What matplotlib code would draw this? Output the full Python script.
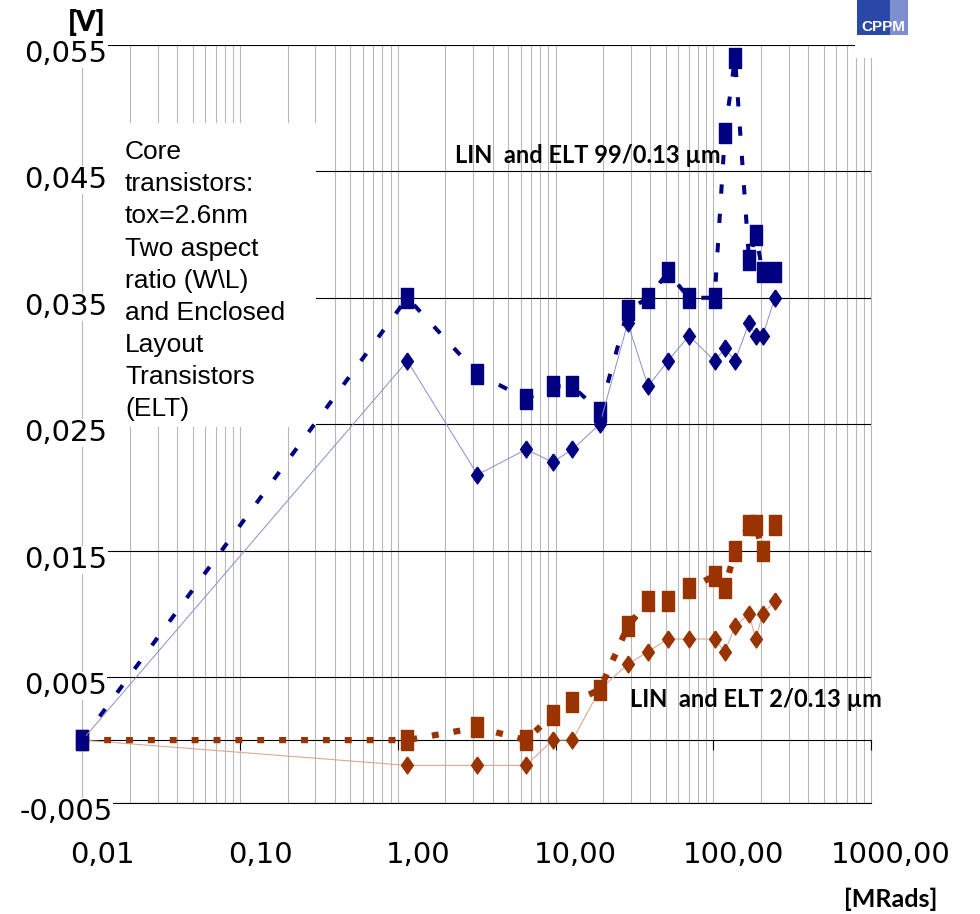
import numpy as np
import matplotlib
matplotlib.use('Agg')
import matplotlib.pyplot as plt
import matplotlib.transforms as mtransforms
from matplotlib.patches import Rectangle
from matplotlib.ticker import LogLocator, NullFormatter

# Dose points [MRad]
dose = [0.01, 1.15, 3.2, 6.5, 9.6, 12.8, 19.1, 28.7, 38.6, 51.6,
        70.2, 102, 118.6, 137.4, 168.6, 185.8, 205.7, 246]

# LIN/ELT 99/0.13 um (blue)
blue_sq = [0.000, 0.035, 0.029, 0.027, 0.028, 0.028, 0.026, 0.034, 0.035, 0.037,
           0.035, 0.035, 0.048, 0.054, 0.038, 0.040, 0.037, 0.037]
blue_dia = [0.000, 0.030, 0.021, 0.023, 0.022, 0.023, 0.025, 0.033, 0.028, 0.030,
            0.032, 0.030, 0.031, 0.030, 0.033, 0.032, 0.032, 0.035]

# LIN/ELT 2/0.13 um (orange)
orange_sq = [0.000, 0.000, 0.001, 0.000, 0.002, 0.003, 0.004, 0.009, 0.011, 0.011,
             0.012, 0.013, 0.012, 0.015, 0.017, 0.017, 0.015, 0.017]
orange_dia = [0.000, -0.002, -0.002, -0.002, 0.000, 0.000, 0.004, 0.006, 0.007, 0.008,
              0.008, 0.008, 0.007, 0.009, 0.010, 0.008, 0.010, 0.011]

x_ticks = [0.01, 0.1, 1, 10, 100, 1000]
y_ticks = [-0.005, 0.005, 0.015, 0.025, 0.035, 0.045, 0.055]

navy = '#000080'
rust = '#993300'

# tall rectangle and diamond markers like the excel chart
rect_m = [(-0.3, -0.5), (0.3, -0.5), (0.3, 0.5), (-0.3, 0.5), (-0.3, -0.5)]
dia_m = [(0, 0.5), (0.35, 0), (0, -0.5), (-0.35, 0), (0, 0.5)]

W, H = 980, 914
fig = plt.figure(figsize=(W / 100, H / 100), dpi=100)
x0, x1, y0, y1 = 82.3, 871, 45, 803.3
ax = fig.add_axes([x0 / W, 1 - y1 / H, (x1 - x0) / W, (y1 - y0) / H])

ax.set_xscale('log')
ax.set_xlim(0.01, 1000)
ax.set_ylim(-0.005, 0.055)

# series
ax.plot(dose, orange_dia, color='#dca894', lw=0.8, marker=dia_m, ms=12.2,
        mfc=rust, mec=rust, zorder=3, clip_on=False)
ax.plot(dose, orange_sq, color=rust, lw=4.5, dashes=(1.1, 2.4), marker=rect_m, ms=14.4,
        mfc=rust, mec=rust, zorder=4, clip_on=False)
ax.plot(dose, blue_sq, color=navy, lw=2.9, dashes=(2.3, 5.0), marker=rect_m, ms=14.4,
        mfc=navy, mec=navy, zorder=5, clip_on=False)
ax.plot(dose, blue_dia, color='#8c8cd0', lw=0.7, marker=dia_m, ms=12.2,
        mfc=navy, mec=navy, zorder=6, clip_on=False)

# grid
ax.xaxis.set_major_locator(LogLocator(base=10))
ax.xaxis.set_minor_locator(LogLocator(base=10, subs=np.arange(2, 10)))
ax.xaxis.set_minor_formatter(NullFormatter())
ax.set_yticks(y_ticks)
ax.set_axisbelow(True)
ax.grid(which='both', axis='x', color='#b8b8b8', lw=0.8)
ax.grid(axis='y', color='black', lw=0.8)
ax.axhline(y_ticks[0], color='black', lw=0.8, zorder=0.45, clip_on=False)
ax.axvline(x_ticks[0], color='#b8b8b8', lw=0.8, zorder=0.4, clip_on=False)
ax.axvline(x_ticks[-1], color='#b8b8b8', lw=0.8, zorder=0.4, clip_on=False)
ax.tick_params(axis='x', which='major', direction='out', length=7, width=0.8,
               color='black', labelbottom=False)
ax.tick_params(axis='x', which='minor', length=0)
ax.tick_params(axis='y', left=False, labelleft=False)
for s in ['top', 'right', 'left']:
    ax.spines[s].set_visible(False)
ax.spines['bottom'].set_position(('data', 0))
ax.spines['bottom'].set_linewidth(0.8)

# white text box over the grid
ax.add_patch(Rectangle(((106 - x0) / (x1 - x0), (y1 - 427) / (y1 - y0)), (316 - 106) / (x1 - x0),
                       (427 - 123) / (y1 - y0), transform=ax.transAxes,
                       facecolor='white', edgecolor='none', zorder=1, clip_on=False))

# tick labels
ytr = mtransforms.blended_transform_factory(ax.transAxes, ax.transData) + \
    mtransforms.ScaledTranslation(0, -0.17, fig.dpi_scale_trans)
for v in y_ticks:
    ax.text((66 - x0) / (x1 - x0), v, f"{v:.3f}".replace('.', ','), transform=ytr,
            ha='center', va='baseline', fontsize=21, family='DejaVu Sans',
            bbox=dict(facecolor='white', edgecolor='none', pad=0), zorder=8, clip_on=False)

xtr = mtransforms.blended_transform_factory(ax.transData, ax.transAxes) + \
    mtransforms.ScaledTranslation(0.20, 0, fig.dpi_scale_trans)
for v in x_ticks:
    ax.text(v, (y1 - 863) / (y1 - y0), f"{v:.2f}".replace('.', ','), transform=xtr,
            ha='center', va='baseline', fontsize=21, family='DejaVu Sans', clip_on=False)

# annotations
fig.text(125 / W, 1 - 140 / H,
         "Core\ntransistors:\ntox=2.6nm\nTwo aspect\nratio (W\\L)\nand Enclosed\nLayout\nTransistors\n(ELT)",
         ha='left', va='top', fontsize=19, family='Liberation Sans', linespacing=1.43, zorder=9)
fig.text(455 / W, 1 - 163 / H, "LIN  and ELT 99/0.13 µm", ha='left', va='baseline',
         fontsize=17, family='Lato', fontweight='bold', zorder=9)
fig.text(630 / W, 1 - 707 / H, "LIN  and ELT 2/0.13 µm", ha='left', va='baseline',
         fontsize=17, family='Lato', fontweight='bold', zorder=9)
fig.text(87 / W, 1 - 23 / H, "[V]", ha='center', va='center',
         fontsize=20, family='Lato', fontweight='heavy')
fig.text(891 / W, 1 - 899 / H, "[MRads]", ha='center', va='center',
         fontsize=18, family='Lato', fontweight='bold')

# CPPM logo corner
fig.add_artist(Rectangle((855 / W, 1 - 58 / H), 70 / W, 58 / H, transform=fig.transFigure,
                         facecolor='white', edgecolor='none', zorder=5))
fig.add_artist(Rectangle((857 / W, 1 - 35 / H), 51 / W, 35 / H, transform=fig.transFigure,
                         facecolor='#2a48a8', edgecolor='none', zorder=6))
fig.add_artist(Rectangle((890 / W, 1 - 35 / H), 18 / W, 35 / H, transform=fig.transFigure,
                         facecolor='#7d8fcf', edgecolor='none', zorder=6))
fig.text(883 / W, 1 - 27 / H, "CPPM", ha='center', va='center', color='white',
         fontsize=11, family='Liberation Sans', fontweight='bold', zorder=7)

fig.savefig('out.png', dpi=100)
